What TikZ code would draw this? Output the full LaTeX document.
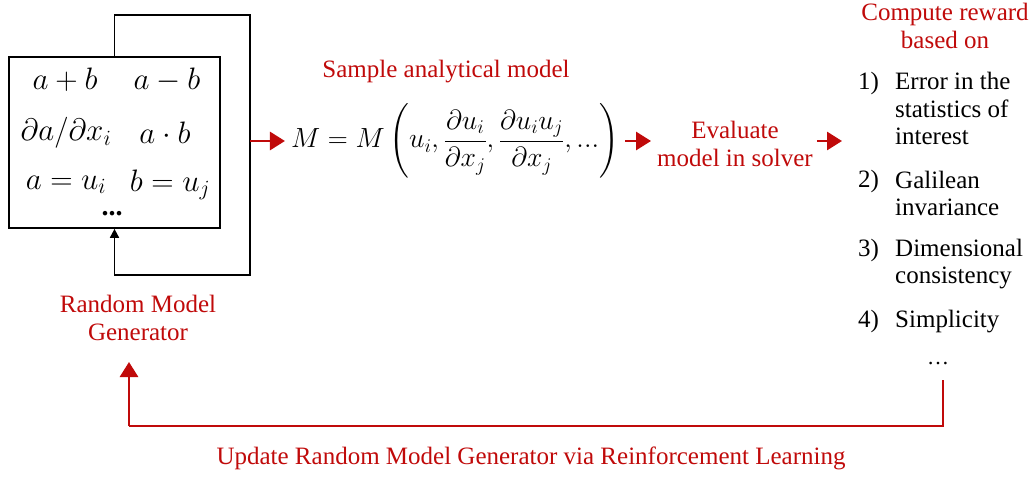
\RequirePackage{fix-cm}
\documentclass[tikz,border=0pt]{standalone}
\usepackage{amsmath}
\usepackage{fontspec}
\setmainfont{Liberation Serif}
\usetikzlibrary{arrows.meta}
\definecolor{dred}{RGB}{192,10,10}
\begin{document}
\begin{tikzpicture}[x=1pt,y=-1pt,
  lbl/.style={text=dred,font=\fontsize{25}{28}\selectfont,align=center,inner sep=0pt},
  itm/.style={font=\fontsize{25}{27.5}\selectfont,align=left,inner sep=0pt,anchor=base west},
  num/.style={font=\fontsize{25}{27.5}\selectfont,inner sep=0pt,anchor=base west},
  mth/.style={font=\fontsize{31}{36}\selectfont,inner sep=0pt},
  blk/.style={line width=1.7pt,black},
  rarr/.style={line width=2.8pt,dred,-{Triangle[length=15pt,width=18pt]}},
  rline/.style={line width=2.4pt,dred}]
\useasboundingbox (0,0) rectangle (1032,478);
% generator box
\node[draw,line width=1.7pt,minimum width=211pt,minimum height=171pt,inner sep=0pt] (box) at (114.5,142.5) {};
\node[mth] (m1) at (65,80) {$a+b$};
\node[mth] (m2) at (167,80) {$a-b$};
\node[mth] (m3) at (66,133) {$\partial a/\partial x_i$};
\node[mth] (m4) at (165,133) {$a\cdot b$};
\node[mth] (m5) at (66,185) {$a=u_i$};
\node[mth] (m6) at (170,185) {$b=u_j$};
\node[inner sep=0pt,font=\fontsize{28}{30}\selectfont\bfseries] (m7) at (112,214) {...};
\coordinate (tr) at (250,15);
\coordinate (br) at (250,275);
\draw[blk,-{Triangle[length=9pt,width=9pt]}] (box.north) |- (tr) -- (br) -| (box.south);
\node[lbl] (rmg) at (138,318) {Random Model\\Generator};
% equation
\node[lbl] (sam) at (446,72) {Sample analytical model};
\node[inner sep=0pt,font=\fontsize{27.7}{32}\selectfont] (eq) at (455,141) {$M=M\left(u_i,\dfrac{\partial u_i}{\partial x_j},\dfrac{\partial u_iu_j}{\partial x_j},...\right)$};
\draw[rarr] (br |- eq.west) -- ([xshift=-6pt]eq.west);
\node[lbl] (ev) at (735,144) {Evaluate\\model in solver};
\draw[rarr] ([xshift=6pt]eq.east) -- ([xshift=-6pt]ev.west |- eq.east);
\node[lbl] (cr) at (945,26) {Compute reward\\based on};
\coordinate (a3) at (842,141);
\draw[rarr] ([xshift=4pt]ev.east |- a3) -- (a3);
% list
\node[num] (n1) at (858,90) {1)};
\node[itm] (t1) at (895,145) {Error in the\\statistics of\\interest};
\node[num] (n2) at (858,188) {2)};
\node[itm] (t2) at (895,215.5) {Galilean\\invariance};
\node[num] (n3) at (858,256) {3)};
\node[itm] (t3) at (895,283.5) {Dimensional\\consistency};
\node[num] (n4) at (858,327) {4)};
\node[itm] (t4) at (895,327) {Simplicity};
\node[inner sep=0pt,font=\fontsize{22}{28}\selectfont] (dots) at (938,364) {\dots};
% feedback
\coordinate (fb0) at (943,380);
\coordinate (fb1) at (943,426);
\coordinate (fb2) at (129,426);
\coordinate (fbtip) at (129,362);
\draw[rline] (fb0) -- (fb1) -- (fb2);
\draw[rarr] (fb2) -- (fbtip);
\node[lbl] (upd) at (531,458) {Update Random Model Generator via Reinforcement Learning};
\end{tikzpicture}
\end{document}
